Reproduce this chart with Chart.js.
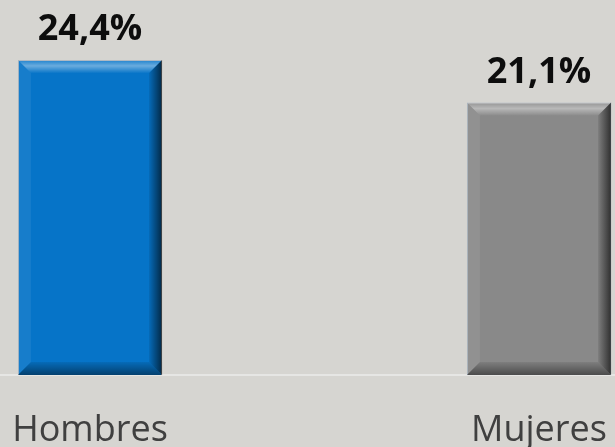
<!DOCTYPE html>
<html>
<head>
<meta charset="utf-8">
<script src="https://cdn.jsdelivr.net/npm/chart.js@4"></script>
<style>
  html, body { margin: 0; padding: 0; background: #d6d5d1; }
  canvas { display: block; }
</style>
</head>
<body>
<canvas id="myChart" width="615" height="447"></canvas>
<script>
// datos del gráfico
const categorias = ['Hombres', 'Mujeres'];
const porcentajes = [24.4, 21.1];
const coloresBarras = ['#0674c8', '#898989'];

// posición de cada categoría en el eje x (lineal, para poder recortar como el original)
const posiciones = [0, 1];

// relieve tipo "bisel" de Excel
const biselPlugin = {
  id: 'bisel',
  afterDatasetsDraw(chart) {
    const ctx = chart.ctx;
    const b = 13;
    chart.getDatasetMeta(0).data.forEach(bar => {
      const l = bar.x - bar.width / 2, r = bar.x + bar.width / 2;
      const t = bar.y, btm = bar.base;
      ctx.save();
      // arriba
      let g = ctx.createLinearGradient(0, t, 0, t + b);
      g.addColorStop(0, 'rgba(255,255,255,0.1)');
      g.addColorStop(0.45, 'rgba(255,255,255,0.4)');
      g.addColorStop(1, 'rgba(255,255,255,0.02)');
      ctx.fillStyle = g;
      ctx.beginPath();
      ctx.moveTo(l, t); ctx.lineTo(r, t); ctx.lineTo(r - b, t + b); ctx.lineTo(l + b, t + b);
      ctx.closePath(); ctx.fill();
      // izquierda
      ctx.fillStyle = 'rgba(255,255,255,0.07)';
      ctx.beginPath();
      ctx.moveTo(l, t); ctx.lineTo(l + b, t + b); ctx.lineTo(l + b, btm - b); ctx.lineTo(l, btm);
      ctx.closePath(); ctx.fill();
      // derecha
      g = ctx.createLinearGradient(r - b, 0, r, 0);
      g.addColorStop(0, 'rgba(0,0,0,0.08)');
      g.addColorStop(1, 'rgba(0,0,0,0.65)');
      ctx.fillStyle = g;
      ctx.beginPath();
      ctx.moveTo(r, t); ctx.lineTo(r, btm); ctx.lineTo(r - b, btm - b); ctx.lineTo(r - b, t + b);
      ctx.closePath(); ctx.fill();
      // abajo
      g = ctx.createLinearGradient(0, btm - b, 0, btm);
      g.addColorStop(0, 'rgba(0,0,0,0.08)');
      g.addColorStop(1, 'rgba(0,0,0,0.45)');
      ctx.fillStyle = g;
      ctx.beginPath();
      ctx.moveTo(l, btm); ctx.lineTo(r, btm); ctx.lineTo(r - b, btm - b); ctx.lineTo(l + b, btm - b);
      ctx.closePath(); ctx.fill();
      ctx.restore();
    });
  }
};

// etiquetas de valor encima de las barras
const etiquetasPlugin = {
  id: 'etiquetas',
  afterDatasetsDraw(chart) {
    const ctx = chart.ctx;
    ctx.save();
    ctx.font = 'bold 36px "Open Sans"';
    ctx.fillStyle = '#0d0d0d';
    ctx.textAlign = 'center';
    ctx.textBaseline = 'alphabetic';
    chart.getDatasetMeta(0).data.forEach((bar, i) => {
      const txt = porcentajes[i].toFixed(1).replace('.', ',') + '%';
      ctx.fillText(txt, bar.x, bar.y - 20);
    });
    ctx.restore();
  }
};

const ctx = document.getElementById('myChart');

new Chart(ctx, {
  type: 'bar',
  data: {
    datasets: [{
      data: posiciones.map((p, i) => ({ x: p, y: porcentajes[i] })),
      backgroundColor: coloresBarras,
      borderColor: 'rgba(150,165,180,0.8)',
      borderWidth: 1,
      categoryPercentage: 1,
      barPercentage: 0.321
    }]
  },
  options: {
    responsive: false,
    animation: false,
    layout: { padding: 0 },
    plugins: {
      legend: { display: false },
      tooltip: { enabled: false }
    },
    scales: {
      x: {
        type: 'linear',
        min: -0.2004,
        max: 1.1693,
        offset: false,
        z: 1,
        grid: { display: false, drawTicks: false },
        border: { display: true, color: '#e6e6e4', width: 2 },
        afterBuildTicks(axis) {
          axis.ticks = posiciones.map(v => ({ value: v }));
        },
        afterFit(axis) {
          axis.height = 72;
          axis.paddingLeft = 0;
          axis.paddingRight = 0;
        },
        ticks: {
          padding: 34,
          autoSkip: false,
          maxRotation: 0,
          color: '#404040',
          font: { family: 'Open Sans', size: 36 },
          callback: (v) => categorias[posiciones.indexOf(v)]
        }
      },
      y: {
        display: false,
        min: 0,
        max: 29.05
      }
    }
  },
  plugins: [biselPlugin, etiquetasPlugin]
});
</script>
</body>
</html>
